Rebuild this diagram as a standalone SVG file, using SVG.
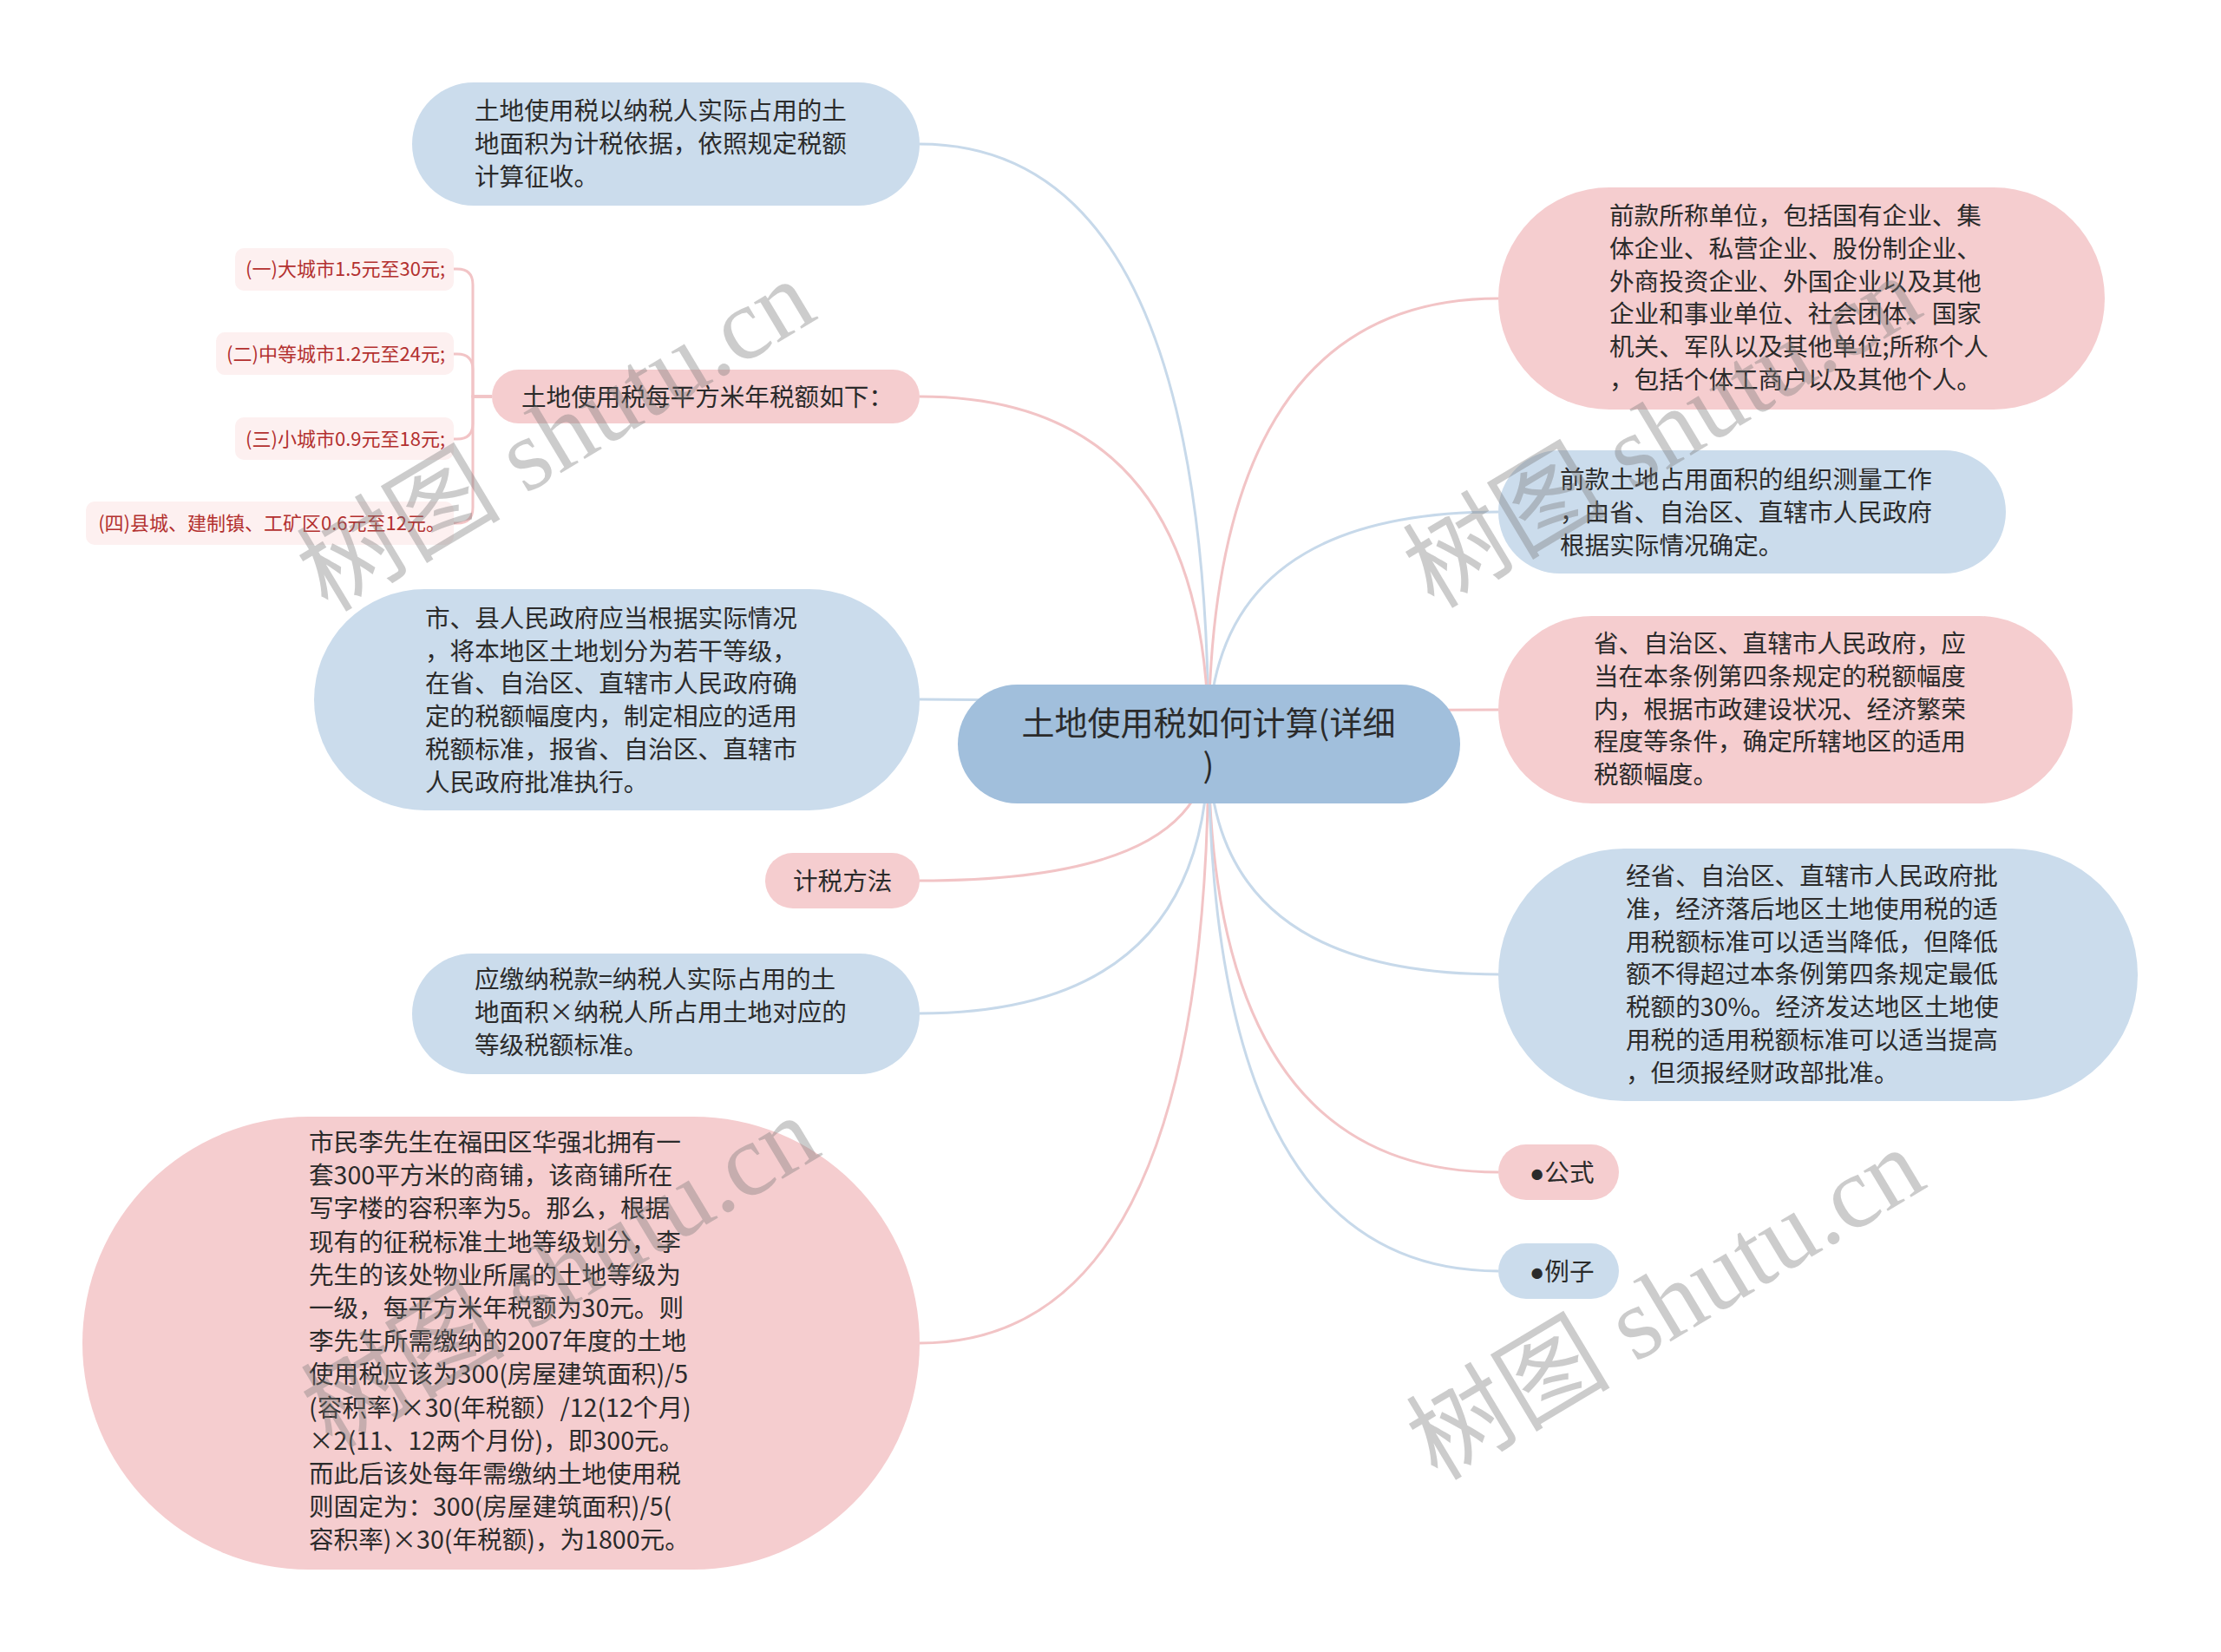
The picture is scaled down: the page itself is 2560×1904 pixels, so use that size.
<svg xmlns="http://www.w3.org/2000/svg" width="2560" height="1904" viewBox="0 0 2560 1904">
<style>
.t{font-family:"Noto Sans CJK SC","Noto Sans",sans-serif;font-size:28.6px;fill:#2b2b2b}
.tr{font-family:"Noto Sans CJK SC","Noto Sans",sans-serif;font-size:22px;fill:#b3302f}
.blue{fill:#cbdcec}
.pink{fill:#f5cdcf}
.leaf{fill:#fdf0f0}
.cp{fill:none;stroke:#f2c4c6;stroke-width:3}
.cb{fill:none;stroke:#c7d9ea;stroke-width:3}
.wm{font-family:"Liberation Serif","Noto Sans CJK SC",serif;font-size:118px;fill:#7a7a7a;fill-opacity:0.38}
</style>
<rect width="2560" height="1904" fill="#ffffff"/>
<g id="connectors">
<path class="cb" d="M1060,166 Q1393,166 1393,857"/>
<path class="cp" d="M1060,457 Q1393,457 1393,857"/>
<path class="cb" d="M1060,806 Q1393,806 1393,857"/>
<path class="cp" d="M1060,1015 Q1393,1015 1393,857"/>
<path class="cb" d="M1060,1168 Q1393,1168 1393,857"/>
<path class="cp" d="M1060,1548 Q1393,1548 1393,857"/>
<path class="cp" d="M1727,344 Q1393,344 1393,857"/>
<path class="cb" d="M1727,590 Q1393,590 1393,857"/>
<path class="cp" d="M1727,818 Q1393,818 1393,857"/>
<path class="cb" d="M1727,1123 Q1393,1123 1393,857"/>
<path class="cp" d="M1727,1351 Q1393,1351 1393,857"/>
<path class="cb" d="M1727,1465 Q1393,1465 1393,857"/>
<path class="cp" d="M567,457 H545 V328 Q545,310 527,310 H523"/>
<path class="cp" d="M567,457 H545 V426 Q545,408 527,408 H523"/>
<path class="cp" d="M567,457 H545 V488 Q545,506 527,506 H523"/>
<path class="cp" d="M567,457 H545 V585 Q545,603 527,603 H523"/>
</g>
<g id="root">
<rect x="1104" y="789" width="579" height="137" rx="68.5" fill="#a1bfdc"/>
<text class="t" style="font-size:38px" text-anchor="middle"><tspan x="1393" y="847">土地使用税如何计算(详细</tspan><tspan x="1393" y="896">)</tspan></text>
</g>
<g id="n1">
<rect class="blue" x="475" y="95" width="585" height="142" rx="71"/>
<text class="t" x="547" y="138">土地使用税以纳税人实际占用的土</text>
<text class="t" x="547" y="176">地面积为计税依据，依照规定税额</text>
<text class="t" x="547" y="214">计算征收。</text>
</g>
<g id="n2">
<rect class="pink" x="567" y="426" width="493" height="62" rx="31"/>
<text class="t" x="601" y="468">土地使用税每平方米年税额如下：</text>
</g>
<g id="l1">
<rect class="leaf" x="271" y="286" width="252" height="49" rx="10"/>
<text class="tr" x="513" y="318" text-anchor="end">(一)大城市1.5元至30元;</text>
</g>
<g id="l2">
<rect class="leaf" x="249" y="383" width="274" height="49" rx="10"/>
<text class="tr" x="513" y="416" text-anchor="end">(二)中等城市1.2元至24元;</text>
</g>
<g id="l3">
<rect class="leaf" x="271" y="481" width="252" height="49" rx="10"/>
<text class="tr" x="513" y="514" text-anchor="end">(三)小城市0.9元至18元;</text>
</g>
<g id="l4">
<rect class="leaf" x="99" y="578" width="424" height="50" rx="10"/>
<text class="tr" x="513" y="611" text-anchor="end">(四)县城、建制镇、工矿区0.6元至12元。</text>
</g>
<g id="n3">
<rect class="blue" x="362" y="679" width="698" height="255" rx="127.5"/>
<text class="t" x="490" y="723">市、县人民政府应当根据实际情况</text>
<text class="t" x="490" y="761">，将本地区土地划分为若干等级，</text>
<text class="t" x="490" y="798">在省、自治区、直辖市人民政府确</text>
<text class="t" x="490" y="836">定的税额幅度内，制定相应的适用</text>
<text class="t" x="490" y="874">税额标准，报省、自治区、直辖市</text>
<text class="t" x="490" y="912">人民政府批准执行。</text>
</g>
<g id="n4">
<rect class="pink" x="882" y="983" width="178" height="64" rx="32"/>
<text class="t" x="914" y="1026">计税方法</text>
</g>
<g id="n5">
<rect class="blue" x="475" y="1099" width="585" height="139" rx="69.5"/>
<text class="t" x="547" y="1139">应缴纳税款=纳税人实际占用的土</text>
<text class="t" x="547" y="1177">地面积×纳税人所占用土地对应的</text>
<text class="t" x="547" y="1215">等级税额标准。</text>
</g>
<g id="n6">
<rect class="pink" x="95" y="1287" width="965" height="522" rx="261"/>
<text class="t" x="356" y="1327">市民李先生在福田区华强北拥有一</text>
<text class="t" x="356" y="1365">套300平方米的商铺，该商铺所在</text>
<text class="t" x="356" y="1403">写字楼的容积率为5。那么，根据</text>
<text class="t" x="356" y="1442">现有的征税标准土地等级划分，李</text>
<text class="t" x="356" y="1480">先生的该处物业所属的土地等级为</text>
<text class="t" x="356" y="1518">一级，每平方米年税额为30元。则</text>
<text class="t" x="356" y="1556">李先生所需缴纳的2007年度的土地</text>
<text class="t" x="356" y="1594">使用税应该为300(房屋建筑面积)/5</text>
<text class="t" x="356" y="1633">(容积率)×30(年税额）/12(12个月)</text>
<text class="t" x="356" y="1671">×2(11、12两个月份)，即300元。</text>
<text class="t" x="356" y="1709">而此后该处每年需缴纳土地使用税</text>
<text class="t" x="356" y="1747">则固定为：300(房屋建筑面积)/5(</text>
<text class="t" x="356" y="1785">容积率)×30(年税额)，为1800元。</text>
</g>
<g id="r1">
<rect class="pink" x="1727" y="216" width="699" height="256" rx="128"/>
<text class="t" x="1855" y="259">前款所称单位，包括国有企业、集</text>
<text class="t" x="1855" y="297">体企业、私营企业、股份制企业、</text>
<text class="t" x="1855" y="335">外商投资企业、外国企业以及其他</text>
<text class="t" x="1855" y="372">企业和事业单位、社会团体、国家</text>
<text class="t" x="1855" y="410">机关、军队以及其他单位;所称个人</text>
<text class="t" x="1855" y="448">，包括个体工商户以及其他个人。</text>
</g>
<g id="r2">
<rect class="blue" x="1727" y="519" width="585" height="142" rx="71"/>
<text class="t" x="1798" y="563">前款土地占用面积的组织测量工作</text>
<text class="t" x="1798" y="601">，由省、自治区、直辖市人民政府</text>
<text class="t" x="1798" y="639">根据实际情况确定。</text>
</g>
<g id="r3">
<rect class="pink" x="1727" y="710" width="662" height="216" rx="108"/>
<text class="t" x="1837" y="752">省、自治区、直辖市人民政府，应</text>
<text class="t" x="1837" y="790">当在本条例第四条规定的税额幅度</text>
<text class="t" x="1837" y="828">内，根据市政建设状况、经济繁荣</text>
<text class="t" x="1837" y="865">程度等条件，确定所辖地区的适用</text>
<text class="t" x="1837" y="903">税额幅度。</text>
</g>
<g id="r4">
<rect class="blue" x="1727" y="978" width="737" height="291" rx="145.5"/>
<text class="t" x="1874" y="1020">经省、自治区、直辖市人民政府批</text>
<text class="t" x="1874" y="1058">准，经济落后地区土地使用税的适</text>
<text class="t" x="1874" y="1096">用税额标准可以适当降低，但降低</text>
<text class="t" x="1874" y="1133">额不得超过本条例第四条规定最低</text>
<text class="t" x="1874" y="1171">税额的30%。经济发达地区土地使</text>
<text class="t" x="1874" y="1209">用税的适用税额标准可以适当提高</text>
<text class="t" x="1874" y="1247">，但须报经财政部批准。</text>
</g>
<g id="r5">
<rect class="pink" x="1727" y="1319" width="139" height="64" rx="32"/>
<text class="t" x="1763" y="1362"><tspan style="font-family:'Liberation Sans',sans-serif">●</tspan>公式</text>
</g>
<g id="r6">
<rect class="blue" x="1727" y="1433" width="139" height="64" rx="32"/>
<text class="t" x="1763" y="1476"><tspan style="font-family:'Liberation Sans',sans-serif">●</tspan>例子</text>
</g>
<g id="watermarks">
<text class="wm" x="648" y="540" text-anchor="middle" transform="rotate(-31 648 514)">树图 shutu.cn</text>
<text class="wm" x="1923" y="536" text-anchor="middle" transform="rotate(-31 1923 510)">树图 shutu.cn</text>
<text class="wm" x="653" y="1504" text-anchor="middle" transform="rotate(-31 653 1478)">树图 shutu.cn</text>
<text class="wm" x="1927" y="1541" text-anchor="middle" transform="rotate(-31 1927 1515)">树图 shutu.cn</text>
</g>
</svg>
